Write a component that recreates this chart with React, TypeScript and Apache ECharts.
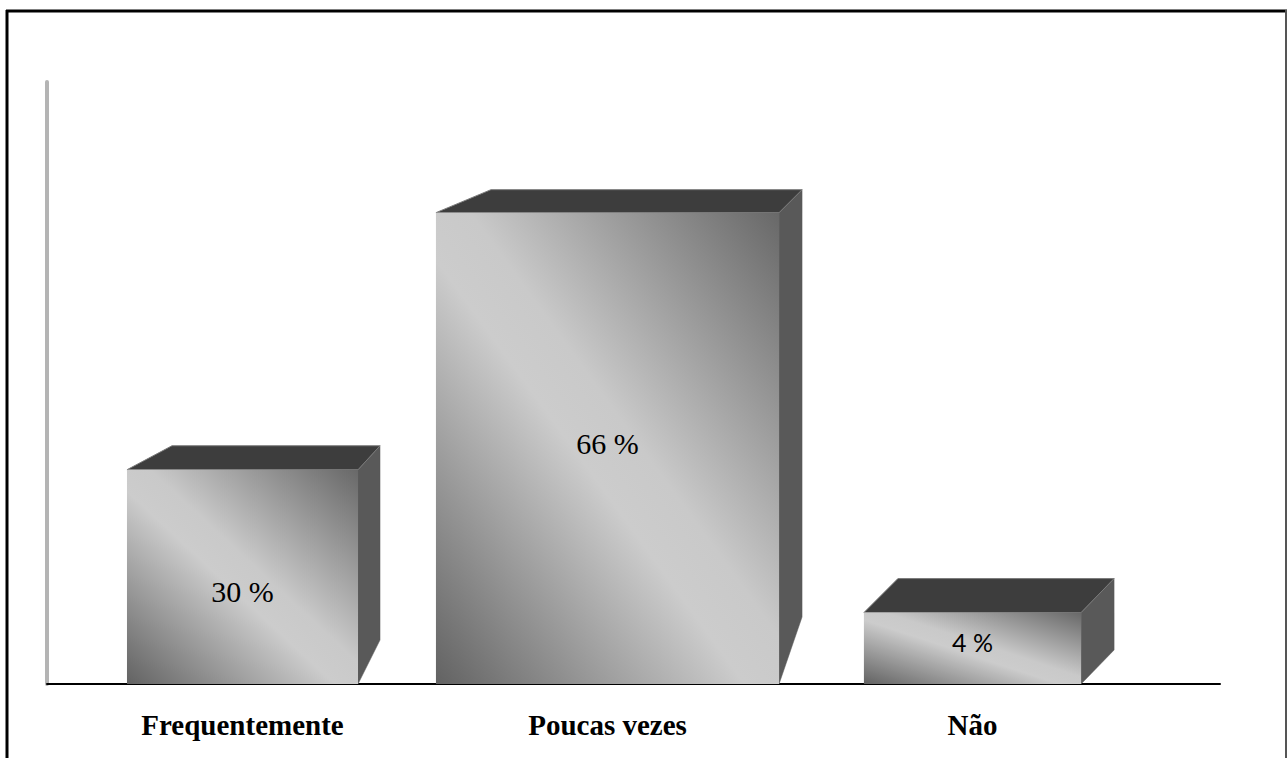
import React, { useEffect, useRef } from "react";
import * as echarts from "echarts";

// ---- data ----
const categories = ["Frequentemente", "Poucas vezes", "Não"];
const barValues = [30, 66, 10];
const valueLabels = ["30 %", "66 %", "4 %"];
const yMax = 84.3;

const SERIF = "Liberation Serif";
const SANS = "Lato";

// ---- per-bar styling (3D look) ----
const barStyle = [
  { wf: 0.633, dxL: 45, dxR: 22, dy: 24, rise: 44, font: SERIF, size: 30, ly: 15 },
  { wf: 0.94, dxL: 55, dxR: 23, dy: 23, rise: 67, font: SERIF, size: 30, ly: -5 },
  { wf: 0.595, dxL: 34, dxR: 33, dy: 34, rise: 34, font: SANS, size: 25, ly: -6 },
];

export default function App() {
  const ref = useRef<HTMLDivElement>(null);
  useEffect(() => {
    if (!ref.current) return;
    const chart = echarts.init(ref.current, null, { renderer: "svg" });
    const renderItem = (params: any, api: any) => {
      const idx = api.value(0);
      const val = api.value(1);
      const s = barStyle[idx];
      const top = api.coord([idx, val]);
      const base = api.coord([idx, 0]);
      const band = api.size([1, 0])[0];
      const w = band * s.wf;
      const x0 = top[0] - w / 2;
      const x1 = top[0] + w / 2;
      const yt = top[1];
      const yb = base[1];
      return {
        type: "group",
        children: [
          {
            type: "polygon",
            shape: {
              points: [
                [x1, yt],
                [x1 + s.dxR, yt - s.dy],
                [x1 + s.dxR, yb - s.rise],
                [x1, yb],
              ],
            },
            style: { fill: "#595959", stroke: "#595959", lineWidth: 0.5 },
          },
          {
            type: "polygon",
            shape: {
              points: [
                [x0, yt],
                [x0 + s.dxL, yt - s.dy],
                [x1 + s.dxR, yt - s.dy],
                [x1, yt],
              ],
            },
            style: { fill: "#3d3d3d", stroke: "#7a7a7a", lineWidth: 1 },
          },
          {
            type: "rect",
            shape: { x: x0, y: yt, width: w, height: yb - yt },
            style: {
              fill: {
                type: "linear",
                x: 0,
                y: 1,
                x2: 1,
                y2: 0,
                colorStops: [
                  { offset: 0, color: "#626262" },
                  { offset: 0.45, color: "#cccccc" },
                  { offset: 0.55, color: "#c9c9c9" },
                  { offset: 1, color: "#686868" },
                ],
              },
            },
          },
          {
            type: "text",
            x: top[0],
            y: (yt + yb) / 2 + s.ly,
            style: {
              text: valueLabels[idx],
              fill: "#000",
              fontFamily: s.font,
              fontSize: s.size,
              align: "center",
              verticalAlign: "middle",
            },
          },
        ],
      };
    };

    chart.setOption({
      animation: false,
      backgroundColor: "#ffffff",
      grid: [
        { left: 60, right: 132, top: 82, bottom: 74 },
        { left: 47, right: 67, top: 82, bottom: 74 },
      ],
      xAxis: [
        {
          type: "category",
          gridIndex: 0,
          data: categories,
          axisLine: { show: false },
          axisTick: { show: false },
          axisLabel: {
            margin: 26,
            color: "#000",
            fontFamily: SERIF,
            fontWeight: "bold",
            fontSize: 29,
          },
        },
        {
          type: "value",
          gridIndex: 1,
          min: 0,
          max: 1,
          axisLine: { show: true, lineStyle: { color: "#000", width: 2 } },
          axisTick: { show: false },
          axisLabel: { show: false },
          splitLine: { show: false },
        },
      ],
      yAxis: [
        {
          type: "value",
          gridIndex: 0,
          min: 0,
          max: yMax,
          axisLine: { show: false },
          axisTick: { show: false },
          axisLabel: { show: false },
          splitLine: { show: false },
        },
        {
          type: "value",
          gridIndex: 1,
          min: 0,
          max: 1,
          axisLine: { show: true, lineStyle: { color: "#b4b4b4", width: 4 } },
          axisTick: { show: false },
          axisLabel: { show: false },
          splitLine: { show: false },
        },
      ],
      graphic: [
        { type: "line", shape: { x1: 6, y1: 11, x2: 1287, y2: 11 }, style: { stroke: "#000", lineWidth: 3 } },
        { type: "line", shape: { x1: 7, y1: 10, x2: 7, y2: 758 }, style: { stroke: "#000", lineWidth: 3 } },
        { type: "line", shape: { x1: 1286, y1: 10, x2: 1286, y2: 758 }, style: { stroke: "#555", lineWidth: 2 } },
      ],
      series: [
        {
          type: "custom",
          xAxisIndex: 0,
          yAxisIndex: 0,
          renderItem,
          data: barValues.map((v, i) => [i, v]),
          z: 5,
        },
      ],
    });
    return () => chart.dispose();
  }, []);
  return (
    <div
      ref={ref}
      style={{ position: "absolute", left: 0, top: 0, width: 1287, height: 758 }}
    />
  );
}
